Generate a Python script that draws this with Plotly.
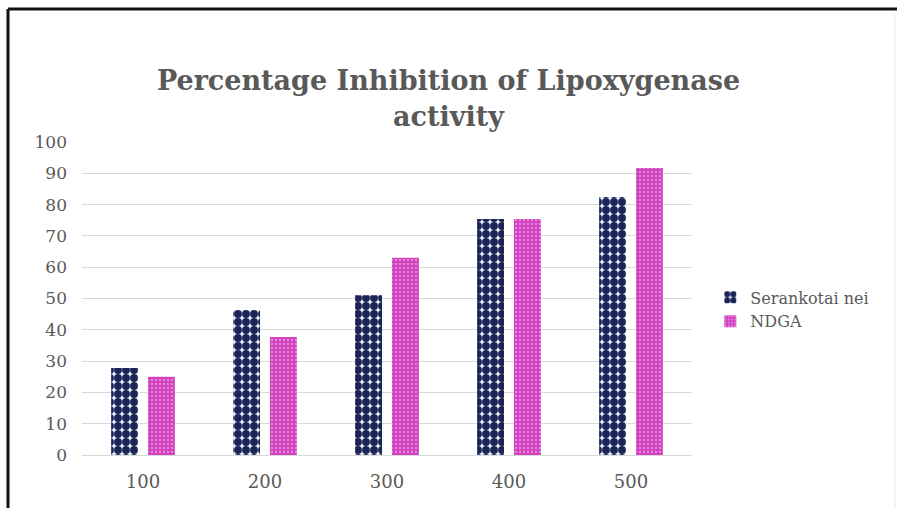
import plotly.graph_objects as go

concentrations = ["100", "200", "300", "400", "500"]
serankotai_nei = [27.8, 46.3, 51.0, 75.4, 82.4]
ndga = [25.0, 37.7, 63.0, 75.4, 91.7]
y_ticks = [0, 10, 20, 30, 40, 50, 60, 70, 80, 90, 100]

serif = "DejaVu Serif, Liberation Serif, serif"
grey = "#595959"

fig = go.Figure()
fig.add_trace(go.Bar(
    name="Serankotai nei",
    x=concentrations,
    y=serankotai_nei,
    marker=dict(
        color="#1b2456",
        line=dict(width=0),
        pattern=dict(shape=".", bgcolor="#e9edf6", fgcolor="#1b2456",
                     size=8, solidity=0.75, fillmode="replace"),
    ),
))
fig.add_trace(go.Bar(
    name="NDGA",
    x=concentrations,
    y=ndga,
    marker=dict(
        color="#d23fbf",
        line=dict(width=0),
        pattern=dict(shape=".", bgcolor="#d23fbf", fgcolor="#f4c8ee",
                     size=4, solidity=0.3, fillmode="overlay"),
    ),
))

fig.update_layout(
    width=897,
    height=508,
    margin=dict(l=82, r=205, t=142, b=53),
    paper_bgcolor="#ffffff",
    plot_bgcolor="#ffffff",
    barmode="group",
    bargap=0.396,
    bargroupgap=0.27,
    title=dict(
        text="<b>Percentage Inhibition of Lipoxygenase<br>activity</b>",
        x=0.5, xanchor="center", xref="container",
        y=0.822, yanchor="middle", yref="container",
        font=dict(family=serif, size=27, color=grey),
    ),
    font=dict(family=serif, size=16, color=grey),
    legend=dict(
        x=1.03, xanchor="left",
        y=0.465, yanchor="middle",
        font=dict(family=serif, size=16, color=grey),
        itemwidth=30,
        tracegroupgap=12,
        bgcolor="rgba(0,0,0,0)",
    ),
    xaxis=dict(
        showgrid=False,
        showline=True, linecolor="#d9d9d9", linewidth=1,
        ticks="", ticklabelstandoff=10,
        tickfont=dict(family=serif, size=18, color=grey),
    ),
    yaxis=dict(
        range=[0, 100],
        tickvals=y_ticks,
        showgrid=True, gridcolor="#d9d9d9", gridwidth=1,
        zeroline=False, showline=False,
        ticks="", ticklabelstandoff=14,
        tickfont=dict(family=serif, size=17, color=grey),
    ),
    shapes=[
        # dark frame along the left and top edges
        dict(type="line", xref="paper", yref="paper",
             x0=-0.1213, x1=-0.1213, y0=-0.2, y1=1.425,
             line=dict(color="#111111", width=3)),
        dict(type="line", xref="paper", yref="paper",
             x0=-0.1213, x1=1.4, y0=1.425, y1=1.425,
             line=dict(color="#111111", width=3)),
        # light chart-area border on the right
        dict(type="line", xref="paper", yref="paper",
             x0=1.3325, x1=1.3325, y0=-0.2, y1=1.41,
             line=dict(color="#e6e6e6", width=1)),
    ],
)

fig.write_html("out.html")
